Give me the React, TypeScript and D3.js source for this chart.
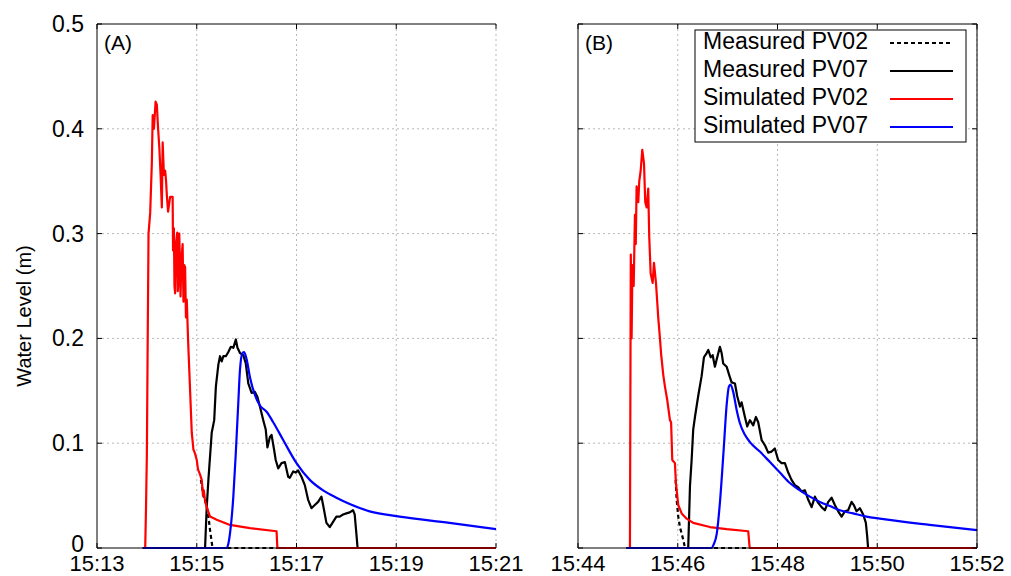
import React from "react";
import * as d3 from "d3";

// Each point: [seconds after 15:00:00, water level in metres]
type Pt = [number, number];

// ---- Event (A): 15:13 – 15:21 ----
const measuredPV02_A: Pt[] = [
  [905, 0.065], [908, 0.05], [912, 0.04], [914.5, 0.027], [916, 0.017], [919, 0], [1260, 0],
];

const measuredPV07_A: Pt[] = [
  [835, 0], [910, 0], [912, 0.039], [914, 0.065], [918, 0.11], [921, 0.122], [923, 0.154],
  [926, 0.175], [928, 0.183], [930, 0.178], [932, 0.183], [935, 0.183], [938, 0.187],
  [941, 0.192], [944, 0.191], [947, 0.199], [949, 0.191], [952, 0.186], [956, 0.184],
  [959, 0.176], [962, 0.157], [966, 0.148], [970, 0.149], [973, 0.144], [976, 0.135],
  [980, 0.122], [983, 0.113], [985, 0.096], [988, 0.106], [990, 0.108], [993, 0.094],
  [995, 0.084], [998, 0.076], [1002, 0.081], [1006, 0.082], [1010, 0.068], [1012, 0.067],
  [1016, 0.073], [1019, 0.072], [1022, 0.074], [1026, 0.068], [1030, 0.06], [1034, 0.046],
  [1038, 0.038], [1042, 0.041], [1046, 0.044], [1050, 0.049], [1052, 0.041], [1056, 0.024],
  [1060, 0.02], [1064, 0.025], [1068, 0.03], [1072, 0.03], [1076, 0.032], [1080, 0.033],
  [1084, 0.034], [1088, 0.036], [1090, 0.032], [1092, 0.014], [1093.5, 0], [1260, 0],
];

const simulatedPV02_A: Pt[] = [
  [835, 0], [838, 0], [839, 0.04], [840, 0.09], [841, 0.2], [842, 0.3], [844, 0.32],
  [846, 0.368], [847, 0.413], [848.5, 0.4], [850.5, 0.426], [852, 0.423], [853.5, 0.4],
  [855, 0.382], [856.5, 0.356], [858, 0.325], [859, 0.387], [860.5, 0.356], [862, 0.36],
  [863, 0.351], [864, 0.337], [865.5, 0.321], [868, 0.335], [871, 0.335], [871.5, 0.284],
  [872.5, 0.305], [873.2, 0.25], [874, 0.243], [875, 0.29], [876.5, 0.301], [877.2, 0.245],
  [878, 0.256], [879, 0.3], [880.5, 0.24], [881.5, 0.275], [883, 0.29], [884, 0.235],
  [885, 0.27], [886, 0.268], [887, 0.22], [888, 0.237], [889.5, 0.2], [890.5, 0.18],
  [892, 0.15], [893, 0.13], [894, 0.11], [896, 0.094], [898, 0.09], [900, 0.084],
  [901.5, 0.075], [904, 0.07], [906, 0.065], [907.5, 0.05], [908.5, 0.055], [910, 0.045],
  [912, 0.039], [916, 0.03], [924, 0.027], [940, 0.022], [964, 0.019], [996, 0.016],
  [997, 0], [1260, 0],
];

const simulatedPV07_A: Pt[] = [
  [835, 0], [936, 0], [938, 0.004], [940, 0.014], [944, 0.049], [947, 0.091], [950, 0.139],
  [952, 0.17], [955, 0.186], [957, 0.187], [960, 0.18], [964, 0.163], [970, 0.146],
  [976, 0.136], [984, 0.13], [992, 0.12], [1004, 0.103], [1020, 0.081], [1036, 0.065],
  [1052, 0.055], [1068, 0.048], [1084, 0.042], [1108, 0.035], [1144, 0.03], [1204, 0.024],
  [1260, 0.018],
];

// ---- Event (B): 15:44 – 15:52 ----
const measuredPV02_B: Pt[] = [
  [2757.5, 0.065], [2758.7, 0.046], [2760.6, 0.03], [2762.6, 0.02], [2766.6, 0.008],
  [2768.7, 0], [3120, 0],
];

const measuredPV07_B: Pt[] = [
  [2698, 0], [2772.6, 0], [2774.7, 0.059], [2776.7, 0.084], [2778.6, 0.113], [2780.7, 0.125],
  [2784.6, 0.145], [2788.7, 0.164], [2791.5, 0.182], [2794.8, 0.186], [2796.7, 0.189],
  [2799.6, 0.182], [2802, 0.184], [2804.7, 0.173], [2807.5, 0.182], [2810.7, 0.192],
  [2812.8, 0.186], [2814.7, 0.176], [2818.8, 0.173], [2821.9, 0.165], [2824.8, 0.158],
  [2828.8, 0.157], [2831.5, 0.145], [2834.8, 0.135], [2836.8, 0.139], [2840.8, 0.125],
  [2843.6, 0.116], [2846.8, 0.122], [2850.8, 0.117], [2854, 0.125], [2856.8, 0.12],
  [2860.9, 0.103], [2864.9, 0.098], [2868.8, 0.091], [2872.9, 0.092], [2876.8, 0.095],
  [2880.8, 0.084], [2884.9, 0.081], [2888.9, 0.081], [2892.9, 0.072], [2896.9, 0.065],
  [2900.9, 0.06], [2904.9, 0.058], [2909, 0.054], [2913, 0.055], [2917, 0.046], [2921, 0.039],
  [2925, 0.049], [2929, 0.043], [2933, 0.039], [2937, 0.036], [2941, 0.044], [2945.1, 0.048],
  [2949, 0.041], [2953, 0.035], [2957.1, 0.03], [2961, 0.035], [2965, 0.036], [2969.1, 0.044],
  [2971.8, 0.041], [2975.1, 0.035], [2979.1, 0.038], [2983.1, 0.032], [2986.3, 0.024],
  [2987.9, 0.011], [2989, 0], [3120, 0],
];

const simulatedPV02_B: Pt[] = [
  [2698, 0], [2702.5, 0], [2703.5, 0.28], [2704.5, 0.2], [2705.5, 0.27], [2707, 0.25],
  [2708.5, 0.318], [2709.5, 0.29], [2710.5, 0.345], [2712.5, 0.33], [2713.7, 0.35],
  [2715.4, 0.36], [2717.3, 0.38], [2719.4, 0.367], [2720.9, 0.33], [2722.6, 0.325],
  [2724.5, 0.343], [2725.7, 0.297], [2727.4, 0.262], [2729.8, 0.253], [2731.4, 0.272],
  [2733.8, 0.253], [2735.3, 0.235], [2736.5, 0.22], [2738.6, 0.2], [2740, 0.185],
  [2742.6, 0.165], [2744.6, 0.154], [2747.4, 0.141], [2750.6, 0.122], [2752, 0.12],
  [2753.4, 0.084], [2756.6, 0.081], [2757.8, 0.062], [2760.6, 0.041], [2764.7, 0.033],
  [2770.7, 0.028], [2778.6, 0.024], [2798.7, 0.02], [2818.8, 0.018], [2844.8, 0.016],
  [2846.5, 0], [3120, 0],
];

const simulatedPV07_B: Pt[] = [
  [2698, 0], [2801, 0], [2803, 0.003], [2807, 0.014], [2811, 0.046], [2815, 0.091],
  [2819, 0.138], [2821.5, 0.154], [2823.5, 0.156], [2826.7, 0.149], [2830.8, 0.132],
  [2834.8, 0.119], [2840.8, 0.108], [2846.8, 0.101], [2858.8, 0.092], [2870.9, 0.082],
  [2882.9, 0.072], [2894.9, 0.062], [2906.9, 0.055], [2919, 0.049], [2931, 0.044],
  [2943, 0.04], [2955, 0.036], [2971, 0.033], [2987, 0.03], [3003, 0.028], [3063, 0.022],
  [3120, 0.017],
];

// Axis ticks
const xTicksA = ["15:13", "15:15", "15:17", "15:19", "15:21"];
const xTicksB = ["15:44", "15:46", "15:48", "15:50", "15:52"];
const yTicks = [0, 0.1, 0.2, 0.3, 0.4, 0.5];

const legendLabels = ["Measured PV02", "Measured PV07", "Simulated PV02", "Simulated PV07"];

// ---- styling / layout ----
const W = 1011;
const H = 576;
const TOP = 24;
const BOTTOM = 548;
const FONT = "'Liberation Sans', Arial, Helvetica, sans-serif";
const GRID = "#b8b8b8";

// order: measured PV02, measured PV07, simulated PV02, simulated PV07
const seriesStyle = [
  { color: "#000000", dash: "4,3", smooth: false },
  { color: "#000000", dash: undefined, smooth: false },
  { color: "#ff0000", dash: undefined, smooth: false },
  { color: "#0000ff", dash: undefined, smooth: true },
];

const toSec = (hm: string) => {
  const [h, m] = hm.split(":").map(Number);
  return (h - 15) * 3600 + m * 60;
};

const fmtY = (v: number) => (v === 0 ? "0" : d3.format(".1f")(v));

type PanelProps = {
  left: number;
  right: number;
  ticks: string[];
  tag: string;
  data: Pt[][];
  showYLabels: boolean;
  rightFrame: boolean;
};

function Panel({ left, right, ticks, tag, data, showYLabels, rightFrame }: PanelProps) {
  const x = d3
    .scaleLinear()
    .domain([toSec(ticks[0]), toSec(ticks[ticks.length - 1])])
    .range([left, right]);
  const y = d3.scaleLinear().domain([0, 0.5]).range([BOTTOM, TOP]);
  const lineFor = (smooth: boolean) =>
    d3
      .line<Pt>()
      .x((d) => x(d[0]))
      .y((d) => y(d[1]))
      .curve(smooth ? d3.curveMonotoneX : d3.curveLinear);

  const tickLen = 5;

  return (
    <g>
      {/* grid */}
      {ticks.slice(1).map((t) => (
        <line
          key={"gx" + t}
          x1={x(toSec(t))}
          x2={x(toSec(t))}
          y1={TOP}
          y2={BOTTOM}
          stroke={GRID}
          strokeWidth={1}
          strokeDasharray="2,3"
        />
      ))}
      {yTicks.slice(1, -1).map((v) => (
        <line
          key={"gy" + v}
          x1={left}
          x2={right}
          y1={y(v)}
          y2={y(v)}
          stroke={GRID}
          strokeWidth={1}
          strokeDasharray="2,3"
        />
      ))}

      {data.map((d, i) => (
        <path
          key={"s" + i}
          d={lineFor(seriesStyle[i].smooth)(d) || ""}
          fill="none"
          stroke={seriesStyle[i].color}
          strokeWidth={2.2}
          strokeDasharray={seriesStyle[i].dash}
          strokeLinejoin="round"
        />
      ))}

      {/* frame */}
      <line x1={left} x2={right} y1={TOP} y2={TOP} stroke="#000" strokeWidth={1} />
      <line x1={left} x2={right} y1={BOTTOM} y2={BOTTOM} stroke="#000" strokeWidth={1} />
      <line x1={left} x2={left} y1={TOP} y2={BOTTOM} stroke="#000" strokeWidth={1} />
      {rightFrame && (
        <line x1={right} x2={right} y1={TOP} y2={BOTTOM} stroke="#000" strokeWidth={1} />
      )}

      {/* tick marks */}
      {ticks.map((t) => (
        <g key={"tx" + t}>
          <line
            x1={x(toSec(t))}
            x2={x(toSec(t))}
            y1={BOTTOM}
            y2={BOTTOM - tickLen}
            stroke="#000"
          />
          <line x1={x(toSec(t))} x2={x(toSec(t))} y1={TOP} y2={TOP + tickLen} stroke="#000" />
        </g>
      ))}
      {yTicks.map((v) => (
        <g key={"ty" + v}>
          <line x1={left} x2={left + tickLen} y1={y(v)} y2={y(v)} stroke="#000" />
          {rightFrame && (
            <line x1={right} x2={right - tickLen} y1={y(v)} y2={y(v)} stroke="#000" />
          )}
        </g>
      ))}

      {/* tick labels */}
      {ticks.map((t) => (
        <text
          key={"lx" + t}
          x={x(toSec(t))}
          y={BOTTOM + 23}
          textAnchor="middle"
          fontSize={22}
          fontFamily={FONT}
          fill="#000"
        >
          {t}
        </text>
      ))}
      {showYLabels &&
        yTicks.map((v) => (
          <text
            key={"ly" + v}
            x={left - 13}
            y={y(v) - (v === 0 ? 4 : 0)}
            dy="0.35em"
            textAnchor="end"
            fontSize={23}
            fontFamily={FONT}
            fill="#000"
          >
            {fmtY(v)}
          </text>
        ))}

      {/* panel tag */}
      <text x={left + 7} y={TOP + 26} fontSize={21} fontFamily={FONT} fill="#000">
        {tag}
      </text>
    </g>
  );
}

function Legend() {
  const x0 = 695;
  const y0 = 30;
  const w = 271;
  const h = 112;
  const rowH = 28;
  return (
    <g>
      <rect x={x0} y={y0} width={w} height={h} fill="#fff" stroke="#000" strokeWidth={1} />
      {legendLabels.map((lab, i) => (
        <g key={lab}>
          <text
            x={x0 + 8}
            y={y0 + 18.5 + i * rowH}
            fontSize={23}
            fontFamily={FONT}
            fill="#000"
          >
            {lab}
          </text>
          <line
            x1={x0 + 195}
            x2={x0 + 258}
            y1={y0 + 13 + i * rowH}
            y2={y0 + 13 + i * rowH}
            stroke={seriesStyle[i].color}
            strokeWidth={2}
            strokeDasharray={seriesStyle[i].dash}
          />
        </g>
      ))}
    </g>
  );
}

export default function App() {
  return (
    <svg
      width={W}
      height={H}
      viewBox={`0 0 ${W} ${H}`}
      style={{ position: "absolute", left: 0, top: 0, background: "#fff" }}
    >
      <rect x={0} y={0} width={W} height={H} fill="#fff" />
      <Panel
        left={97}
        right={496}
        ticks={xTicksA}
        tag="(A)"
        data={[measuredPV02_A, measuredPV07_A, simulatedPV02_A, simulatedPV07_A]}
        showYLabels
        rightFrame={false}
      />
      <Panel
        left={578}
        right={977}
        ticks={xTicksB}
        tag="(B)"
        data={[measuredPV02_B, measuredPV07_B, simulatedPV02_B, simulatedPV07_B]}
        showYLabels={false}
        rightFrame
      />
      <Legend />
      <text
        transform="translate(31,316) rotate(-90)"
        textAnchor="middle"
        fontSize={20}
        fontFamily={FONT}
        fill="#000"
      >
        Water Level (m)
      </text>
    </svg>
  );
}
